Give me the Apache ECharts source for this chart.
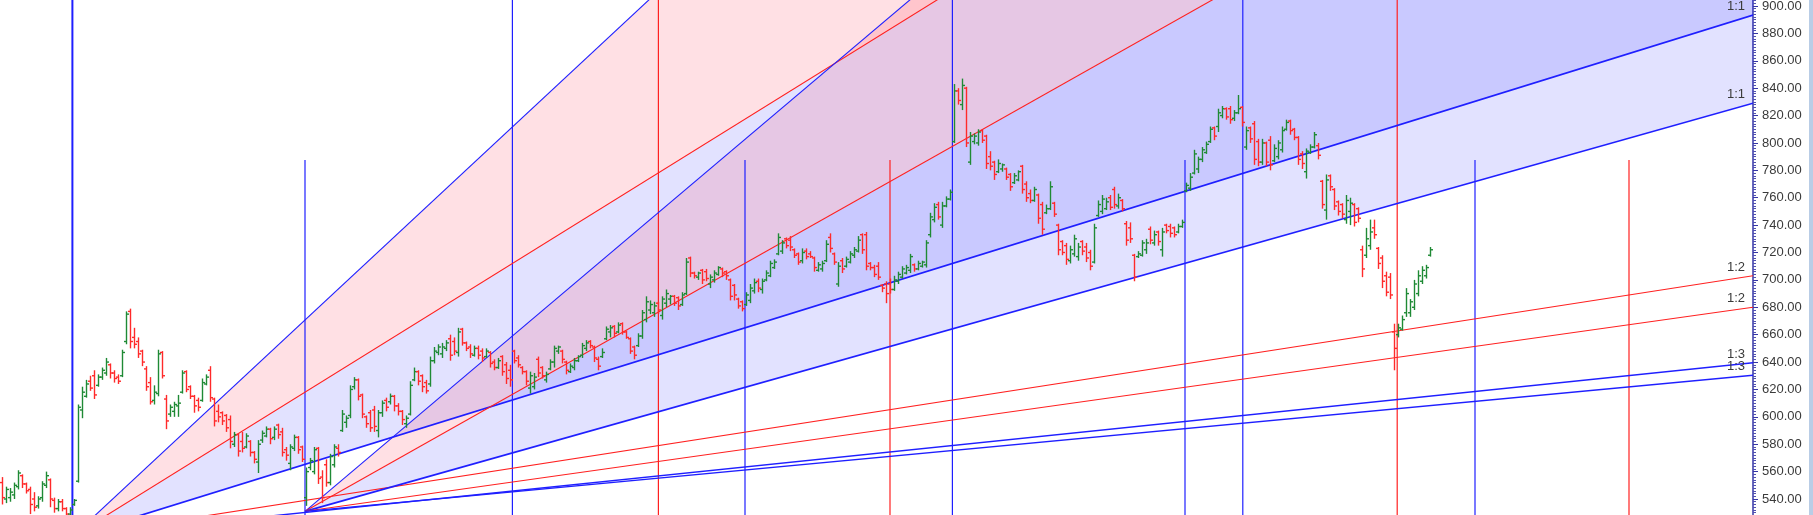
<!DOCTYPE html>
<html>
<head>
<meta charset="utf-8">
<title>Gann fans</title>
<script src="https://cdn.jsdelivr.net/npm/echarts@6/dist/echarts.min.js"></script>
<style>
  html, body { margin: 0; padding: 0; background: #fff; }
  #chart { width: 1813px; height: 515px; }
</style>
</head>
<body>
<div id="chart"></div>
<script>
  // one entry per bar: [open, high, low, close]
  const ohlcBars = [
    [552,556,536,541],[540,549,537,547],[541,548,538,545],[543,552,540,550],[549,561,547,559],
    [557,558,548,551],[551,552,544,546],[547,549,529,536],[540,545,531,534],[535,542,533,540],
    [541,553,538,551],[550,560,548,557],[554,555,534,540],[539,541,530,533],[533,540,531,538],
    [538,540,531,533],[533,534,527,529],[529,534,527,532],[536,540,535,539],[553,609,552,607],
    [605,622,599,618],[615,627,614,624],[626,630,619,621],[630,634,613,616],[623,631,622,629],
    [629,636,627,634],[632,643,630,640],[638,639,628,632],[632,634,625,628],[629,631,624,626],
    [630,649,629,647],[655,677,653,675],[677,679,650,655],[658,665,650,653],[655,658,643,646],
    [648,649,637,640],[635,637,619,622],[625,629,609,611],[612,623,609,618],[617,649,615,646],
    [647,648,628,630],[613,616,591,597],[602,609,600,607],[604,611,600,609],[608,616,600,610],
    [618,634,617,632],[633,634,618,620],[622,623,613,615],[615,616,603,608],[612,614,604,607],
    [612,628,611,625],[624,631,623,629],[634,637,611,614],[613,614,593,597],[604,609,596,600],
    [603,604,594,597],[601,602,589,592],[598,601,577,582],[580,589,578,587],[587,588,571,575],
    [582,589,574,577],[578,588,577,586],[582,583,571,574],[574,575,566,569],[567,583,559,580],
    [583,590,581,588],[586,593,585,591],[591,592,580,584],[585,593,583,591],[594,595,584,587],
    [589,592,571,574],[576,578,568,572],[566,580,561,578],[577,587,575,585],[585,586,573,576],
    [578,579,567,569],[541,563,535,560],[563,570,561,568],[560,578,558,576],[577,578,551,555],
    [556,561,537,541],[565,569,549,552],[552,573,550,571],[565,580,563,578],[577,580,571,574],
    [590,605,589,602],[596,601,592,599],[601,623,599,620],[622,629,620,627],[627,628,612,615],
    [616,617,599,602],[600,601,592,595],[603,605,589,592],[605,608,589,593],[590,605,585,603],
    [603,612,600,610],[612,614,604,607],[611,617,609,615],[615,616,604,608],[608,610,601,604],
    [604,605,594,598],[595,601,592,599],[602,626,601,623],[627,636,626,633],[633,634,623,626],
    [630,631,618,622],[625,627,617,619],[624,644,622,641],[641,651,639,648],[647,653,645,651],
    [646,654,643,651],[650,656,648,654],[657,660,641,645],[655,658,645,648],[647,665,644,662],
    [664,665,652,654],[654,655,648,650],[651,653,643,646],[645,652,644,650],[650,652,642,645],
    [648,650,640,643],[644,650,643,648],[647,648,636,639],[640,642,634,636],[636,643,635,641],
    [644,645,630,633],[638,640,624,628],[634,638,622,627],[648,649,639,641],[643,645,636,638],
    [636,637,631,633],[633,634,623,626],[621,633,617,630],[622,632,620,629],[642,644,629,632],
    [636,637,628,630],[627,633,625,631],[635,642,634,640],[640,652,636,650],[648,652,646,651],
    [648,649,639,642],[640,641,631,634],[633,639,632,637],[636,643,634,641],[641,645,640,644],
    [645,654,643,652],[650,656,648,654],[655,656,650,652],[651,652,640,643],[642,644,634,637],
    [644,650,643,647],[657,666,656,664],[662,667,658,665],[666,667,658,661],[662,669,661,667],
    [668,669,660,662],[662,663,657,658],[657,658,646,648],[651,652,642,645],[652,661,651,659],
    [659,678,657,676],[671,688,669,684],[678,685,675,682],[676,684,673,681],[683,684,675,678],
    [674,688,671,686],[683,693,680,690],[686,689,682,688],[688,689,681,683],[687,688,678,681],
    [682,691,681,689],[690,716,689,713],[716,717,702,705],[705,706,701,703],[702,706,700,705],
    [707,708,697,700],[706,708,699,701],[697,704,694,702],[700,707,698,705],[704,710,703,709],
    [708,709,702,705],[706,707,700,703],[700,701,685,688],[696,697,685,689],[686,687,679,681],
    [684,685,677,679],[682,691,681,689],[685,697,683,694],[692,701,690,698],[699,701,691,694],
    [693,701,690,699],[700,707,699,705],[703,714,702,712],[709,715,708,713],[719,734,718,731],
    [721,729,719,727],[730,731,723,725],[729,732,721,724],[722,723,716,718],[719,720,711,713],
    [714,723,712,720],[721,723,715,717],[719,721,716,717],[716,717,706,709],[707,713,706,711],
    [708,714,706,712],[714,729,713,726],[731,734,720,723],[719,720,711,713],[697,713,695,710],
    [714,716,705,708],[710,717,709,715],[713,721,712,719],[718,724,716,722],[721,732,720,729],
    [733,734,719,722],[733,735,707,710],[712,713,707,709],[709,711,702,704],[710,713,700,702],
    [696,697,691,694],[697,699,683,690],[697,701,690,693],[693,703,692,700],[699,706,697,704],
    [702,710,701,708],[705,711,704,709],[707,719,705,717],[711,712,706,708],[708,714,707,712],
    [710,714,709,713],[711,729,709,727],[733,749,731,746],[744,756,742,753],[755,757,744,746],
    [740,757,738,754],[754,761,753,759],[759,766,758,764],[801,843,800,838],[838,840,828,831],
    [828,847,824,842],[840,841,797,800],[786,808,784,805],[801,807,799,805],[800,810,798,808],
    [809,810,800,802],[805,806,781,785],[790,794,780,783],[786,787,773,777],[779,788,778,785],
    [781,785,779,784],[781,782,773,775],[777,778,765,768],[771,778,770,776],[773,780,772,779],
    [783,784,763,766],[770,772,757,760],[763,766,756,758],[758,768,757,766],[762,763,741,745],
    [755,757,733,737],[749,755,748,752],[752,772,751,768],[756,757,746,748],[740,741,718,722],
    [728,729,718,720],[725,727,711,715],[714,725,712,722],[719,733,717,730],[717,727,714,724],
    [728,729,718,721],[724,727,713,716],[720,722,707,710],[713,741,712,738],[747,758,746,755],
    [750,762,748,759],[752,760,751,757],[760,762,751,753],[766,768,752,755],[754,763,752,760],
    [758,759,750,752],[741,743,725,729],[738,742,727,730],[718,719,699,702],[717,721,716,719],
    [718,729,717,727],[722,730,719,727],[737,739,726,729],[727,736,725,733],[735,736,725,728],
    [722,738,717,735],[740,741,734,736],[739,741,731,734],[738,739,731,733],[735,741,734,739],
    [739,744,738,742],[765,771,764,769],[767,778,765,775],[778,795,777,792],[781,790,778,788],
    [788,797,786,795],[793,801,792,799],[801,812,800,810],[811,812,802,805],[812,825,808,822],
    [820,827,818,825],[825,826,817,819],[825,827,814,817],[818,824,816,822],[822,835,821,825],
    [826,827,812,815],[797,812,795,809],[811,812,800,803],[814,816,784,788],[801,803,783,786],
    [786,803,784,800],[800,801,783,786],[802,805,780,784],[787,799,786,796],[790,802,788,800],
    [795,812,793,809],[810,817,809,815],[816,817,806,809],[810,811,802,804],[804,805,784,788],
    [792,794,781,785],[779,796,774,794],[793,799,792,797],[797,808,796,806],[798,800,788,791],
    [772,773,752,755],[751,777,744,773],[776,777,765,768],[766,767,751,754],[757,758,747,750],
    [755,756,745,748],[744,762,741,758],[750,760,740,756],[755,756,739,742],[752,753,742,745],
    [722,725,702,708],[718,738,716,730],[725,744,722,735],[738,744,730,733],[723,724,708,712],
    [716,718,694,699],[703,706,688,691],[702,705,686,689],[662,668,634,650],[660,668,658,665],
    [664,674,663,671],[676,694,673,690],[676,686,673,684],[680,700,678,697],[690,707,688,703],
    [699,710,697,707],[703,711,701,709],[718,724,717,722]
  ];

  // Gann fans: anchor [bar index, price] and the price rise per bar of the 1:1 ray
  const fanAnchors = [[17.6, 512.6], [75.75, 531.0]];
  const fanUnitSlopes = [0.9063, 0.8232];
  const fanRatios = [3, 2, 1, 1 / 2, 1 / 3];
  const fanRatioNames = ['3:1', '2:1', '1:1', '1:2', '1:3'];

  // time cycle lines, in bar index
  const blueCyclesFull = [17.6, 127.6, 237.6, 310.2];
  const blueCyclesShort = [75.75, 185.75, 295.75, 368.25];
  const redCyclesFull = [164.1, 348.8];
  const redCyclesShort = [222, 406.75];
  const shortCycleTop = 787.5;

  const X_MIN = -0.5, X_MAX = 437.75;
  const Y_MIN = 520, Y_MAX = 920;

  const BLUE = '#1f1fff';
  const RED = '#ff2020';
  const BAR_UP = '#1f8a35';
  const BAR_DOWN = '#ff2a2a';
  const FILLS = ['rgba(255,0,30,0.12)', 'rgba(0,0,255,0.115)'];

  const fillData = [];
  const rayData = [];
  fanAnchors.forEach(function (a, f) {
    const x0 = a[0], p0 = a[1];
    const end = function (r) { return p0 + r * fanUnitSlopes[f] * (X_MAX - x0); };
    fillData.push([x0, p0, X_MAX, end(3), end(2), 0]);
    fillData.push([x0, p0, X_MAX, end(2), end(1), 1]);
    fanRatios.forEach(function (r, j) {
      rayData.push([x0, p0, X_MAX, end(r), j]);
    });
  });

  const cycleData = [];
  blueCyclesFull.forEach(function (x) { cycleData.push([x, Y_MAX, Y_MIN, 0]); });
  blueCyclesShort.forEach(function (x) { cycleData.push([x, shortCycleTop, Y_MIN, 0]); });
  redCyclesFull.forEach(function (x) { cycleData.push([x, Y_MAX, Y_MIN, 1]); });
  redCyclesShort.forEach(function (x) { cycleData.push([x, shortCycleTop, Y_MIN, 1]); });

  const chart = echarts.init(document.getElementById('chart'));
  chart.setOption({
    animation: false,
    grid: {
      left: 0, right: 60, top: -21.39, bottom: -11.39,
      containLabel: false, outerBoundsMode: 'none'
    },
    xAxis: { type: 'value', min: X_MIN, max: X_MAX, show: false },
    yAxis: {
      type: 'value',
      position: 'right',
      min: Y_MIN,
      max: Y_MAX,
      interval: 20,
      axisLine: { show: true, onZero: false, lineStyle: { color: '#3636a6', width: 1.5 } },
      axisTick: { show: true, length: 5, lineStyle: { color: '#3636a6' } },
      minorTick: { show: true, splitNumber: 10, length: 3, lineStyle: { color: '#5050b0' } },
      splitLine: { show: false },
      axisLabel: {
        margin: 9,
        color: '#3a3a3a',
        fontSize: 13,
        fontFamily: '"Liberation Sans", Arial, sans-serif',
        formatter: function (v) { return v.toFixed(2); }
      }
    },
    graphic: [{
      type: 'rect', right: 0, top: 0,
      shape: { width: 4, height: 515 },
      style: { fill: '#b9cde6' }
    }],
    series: [
      {
        type: 'custom',
        name: 'fan fills',
        clip: true,
        silent: true,
        data: fillData,
        encode: { x: [0, 2], y: [1, 3, 4] },
        renderItem: function (params, api) {
          const a = api.coord([api.value(0), api.value(1)]);
          const b = api.coord([api.value(2), api.value(3)]);
          const c = api.coord([api.value(2), api.value(4)]);
          return {
            type: 'polygon',
            shape: { points: [a, b, c] },
            style: { fill: FILLS[api.value(5)] }
          };
        }
      },
      {
        type: 'custom',
        name: 'cycles',
        clip: true,
        silent: true,
        data: cycleData,
        encode: { x: 0, y: [1, 2] },
        renderItem: function (params, api) {
          const t = api.coord([api.value(0), api.value(1)]);
          const b = api.coord([api.value(0), api.value(2)]);
          const first = params.dataIndex === 0;
          return {
            type: 'line',
            shape: { x1: t[0], y1: t[1], x2: b[0], y2: b[1] },
            style: { stroke: api.value(3) ? RED : BLUE, lineWidth: first ? 2 : 1.2 }
          };
        }
      },
      {
        type: 'custom',
        name: 'fan rays',
        clip: true,
        silent: true,
        data: rayData,
        encode: { x: [0, 2], y: [1, 3] },
        renderItem: function (params, api) {
          const a = api.coord([api.value(0), api.value(1)]);
          const b = api.coord([api.value(2), api.value(3)]);
          const j = api.value(4);
          const children = [{
            type: 'line',
            shape: { x1: a[0], y1: a[1], x2: b[0], y2: b[1] },
            style: {
              stroke: j % 2 ? RED : BLUE,
              lineWidth: j === 2 ? 1.7 : (j === 4 ? 1.4 : 1.1)
            }
          }];
          if (fanRatios[j] <= 1) {
            children.push({
              type: 'text',
              x: b[0] - 8,
              y: b[1] - 2,
              style: {
                text: fanRatioNames[j],
                align: 'right',
                verticalAlign: 'bottom',
                fill: '#3a3a3a',
                font: '13px "Liberation Sans", Arial, sans-serif'
              }
            });
          }
          return { type: 'group', children: children };
        }
      },
      {
        type: 'custom',
        name: 'bars',
        clip: true,
        data: ohlcBars.map(function (b, i) { return [i, b[0], b[1], b[2], b[3]]; }),
        encode: { x: 0, y: [1, 2, 3, 4] },
        renderItem: function (params, api) {
          const i = api.value(0);
          const o = api.value(1), h = api.value(2), l = api.value(3), c = api.value(4);
          const top = api.coord([i, h]);
          const bot = api.coord([i, l]);
          const yo = api.coord([i, o])[1];
          const yc = api.coord([i, c])[1];
          const x = Math.round(top[0]) + 0.5;
          const style = { stroke: c >= o ? BAR_UP : BAR_DOWN, lineWidth: 1.4 };
          return {
            type: 'group',
            children: [
              { type: 'line', shape: { x1: x, y1: top[1], x2: x, y2: bot[1] }, style: style },
              { type: 'line', shape: { x1: x - 2.5, y1: yo, x2: x, y2: yo }, style: style },
              { type: 'line', shape: { x1: x, y1: yc, x2: x + 2.5, y2: yc }, style: style }
            ]
          };
        }
      }
    ]
  });
</script>
</body>
</html>
